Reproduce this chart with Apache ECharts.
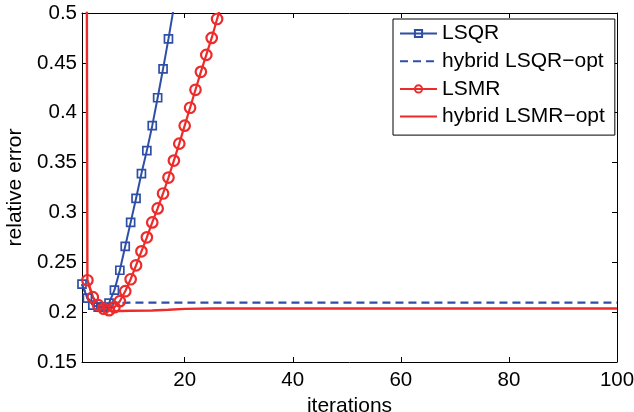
<!DOCTYPE html>
<html>
<head>
<meta charset="utf-8">
<script src="https://cdn.jsdelivr.net/npm/echarts@6/dist/echarts.min.js"></script>
<style>
html,body{margin:0;padding:0;background:#fff;}
#chart{width:634px;height:412px;}
</style>
</head>
<body>
<div id="chart"></div>
<script>
// ---- data ----
var seriesNames = ['LSQR', 'hybrid LSQR\u2212opt', 'LSMR', 'hybrid LSMR\u2212opt'];
var xTickValues = [20, 40, 60, 80, 100];
var yMin = 0.15, yMax = 0.5, yStep = 0.05;
var xMin = 1, xMax = 100;

// [iteration, relative error]
var lsqr = [
  [1, 0.228], [2, 0.214], [3, 0.207], [4, 0.205], [5, 0.205], [6, 0.209],
  [7, 0.222], [8, 0.242], [9, 0.266], [10, 0.290], [11, 0.314], [12, 0.339],
  [13, 0.362], [14, 0.387], [15, 0.415], [16, 0.444], [17, 0.474], [18, 0.506],
  [19, 0.540]
];
var hybridLsqr = [
  [1, 0.228], [2, 0.214], [3, 0.209], [4, 0.2085], [6, 0.209], [10, 0.2095],
  [100, 0.2095]
];
var lsmr = [
  [2, 0.232], [3, 0.215], [4, 0.207], [5, 0.2035], [6, 0.202], [7, 0.205],
  [8, 0.211], [9, 0.221], [10, 0.233], [11, 0.247], [12, 0.261], [13, 0.275],
  [14, 0.290], [15, 0.304], [16, 0.319], [17, 0.335], [18, 0.352], [19, 0.369],
  [20, 0.387], [21, 0.405], [22, 0.423], [23, 0.441], [24, 0.458], [25, 0.475],
  [26, 0.494], [27, 0.513], [28, 0.532]
];
var hybridLsmr = [
  [1, 3.0], [2, 0.232], [3, 0.215], [4, 0.207], [5, 0.203], [6, 0.2015],
  [7, 0.201], [8, 0.2012], [10, 0.2014], [14, 0.2016], [17, 0.2024],
  [20, 0.2033], [25, 0.2036], [100, 0.2036]
];

var BLUE = '#2f4fa6';
var RED = '#ee2b2b';
var FONT = '"Liberation Sans", Arial, Helvetica, sans-serif';

var chart = echarts.init(document.getElementById('chart'), null, {renderer: 'canvas'});

var axisLineStyle = {show: true, lineStyle: {color: '#000', width: 1}};

var option = {
  animation: false,
  backgroundColor: '#fff',
  grid: {left: 82, right: 17, top: 13, bottom: 50, containLabel: false, outerBoundsMode: 'none'},
  xAxis: [{
    type: 'value', min: xMin, max: xMax,
    name: 'iterations', nameLocation: 'middle', nameGap: 23,
    nameTextStyle: {fontFamily: FONT, fontSize: 21, color: '#000'},
    axisLine: axisLineStyle,
    axisTick: {show: true, inside: true, length: 5, customValues: xTickValues, lineStyle: {color: '#000'}},
    axisLabel: {show: true, customValues: xTickValues, margin: 8, fontFamily: FONT, fontSize: 20.5, color: '#000'},
    splitLine: {show: false}
  }, {
    type: 'value', min: xMin, max: xMax, position: 'top',
    axisLine: axisLineStyle,
    axisTick: {show: true, inside: true, length: 5, customValues: xTickValues, lineStyle: {color: '#000'}},
    axisLabel: {show: false},
    splitLine: {show: false}
  }],
  yAxis: [{
    type: 'value', min: yMin, max: yMax, interval: yStep,
    name: 'relative error', nameLocation: 'middle', nameGap: 56, nameMoveOverlap: false,
    nameTextStyle: {fontFamily: FONT, fontSize: 21, color: '#000'},
    axisLine: axisLineStyle,
    axisTick: {show: true, inside: true, length: 5, lineStyle: {color: '#000'}},
    axisLabel: {show: true, margin: 5, fontFamily: FONT, fontSize: 20.5, color: '#000'},
    splitLine: {show: false}
  }, {
    type: 'value', min: yMin, max: yMax, interval: yStep, position: 'right',
    axisLine: axisLineStyle,
    axisTick: {show: true, inside: true, length: 5, lineStyle: {color: '#000'}},
    axisLabel: {show: false},
    splitLine: {show: false}
  }],
  legend: {
    orient: 'vertical', left: 393, top: 19,
    backgroundColor: '#fff', borderColor: '#000', borderWidth: 1, borderRadius: 0,
    padding: [4, 10, 8, 6],
    itemWidth: 37, itemHeight: 9, itemGap: 6.7,
    textStyle: {fontFamily: FONT, fontSize: 21, color: '#000', lineHeight: 20},
    data: [
      {name: seriesNames[0]},
      {name: seriesNames[1], itemStyle: {opacity: 0}},
      {name: seriesNames[2]},
      {name: seriesNames[3], itemStyle: {opacity: 0}}
    ],
    z: 10
  },
  series: [{
    name: seriesNames[0], type: 'line', data: lsqr, clip: true,
    symbol: 'rect', symbolSize: 8, showAllSymbol: true,
    lineStyle: {color: BLUE, width: 2},
    itemStyle: {color: 'rgba(255,255,255,0)', borderColor: BLUE, borderWidth: 1.7}
  }, {
    name: seriesNames[1], type: 'line', data: hybridLsqr, clip: true,
    symbol: 'none',
    lineStyle: {color: BLUE, width: 2.2, type: [8, 5]},
    itemStyle: {color: BLUE}
  }, {
    name: seriesNames[2], type: 'line', data: lsmr, clip: true,
    symbol: 'circle', symbolSize: 10.5, showAllSymbol: true,
    lineStyle: {color: RED, width: 2.2},
    itemStyle: {color: 'rgba(255,255,255,0)', borderColor: RED, borderWidth: 2.2}
  }, {
    name: seriesNames[3], type: 'line', data: hybridLsmr, clip: true,
    symbol: 'none',
    lineStyle: {color: RED, width: 2.4},
    itemStyle: {color: RED}
  }]
};
chart.setOption(option);
</script>
</body>
</html>
